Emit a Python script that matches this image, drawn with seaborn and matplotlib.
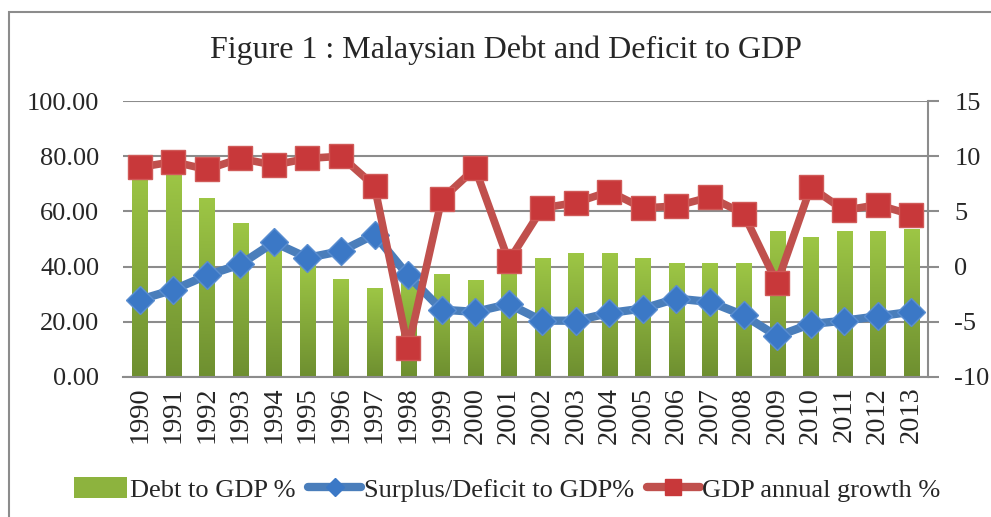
import numpy as np
import pandas as pd
import matplotlib
matplotlib.use('agg')
import matplotlib.pyplot as plt
import seaborn as sns
from matplotlib.patches import Patch, Rectangle
from matplotlib.lines import Line2D

years = [str(y) for y in range(1990, 2014)]
debt_gdp = [76.0, 74.0, 64.5, 55.8, 47.7, 41.3, 35.5, 32.2, 36.0, 37.3, 35.1, 41.0,
            43.1, 44.9, 44.9, 42.8, 41.3, 41.3, 41.3, 52.9, 50.7, 52.9, 52.9, 53.6]
surplus_deficit = [-3.0, -2.1, -0.8, 0.2, 2.2, 0.8, 1.4, 2.9, -0.8, -3.9, -4.1, -3.4,
                   -4.9, -4.9, -4.2, -3.8, -2.9, -3.2, -4.4, -6.3, -5.2, -4.9, -4.5, -4.1]
gdp_growth = [9.0, 9.5, 8.8, 9.8, 9.2, 9.8, 10.0, 7.3, -7.4, 6.1, 8.9, 0.5,
              5.3, 5.8, 6.8, 5.3, 5.5, 6.3, 4.8, -1.5, 7.2, 5.1, 5.6, 4.7]

df = pd.DataFrame({'year': years, 'debt': debt_gdp,
                   'surplus': surplus_deficit, 'growth': gdp_growth})
df['pos'] = np.arange(len(df))

sns.set_style('white')
plt.rcParams['font.family'] = ['Liberation Serif', 'DejaVu Serif']
plt.rcParams['axes.unicode_minus'] = False

GREEN = '#8DB33E'
BLUE = '#4A7EBB'
RED = '#C0504D'
GRID = '#8C8C8C'

fig = plt.figure(figsize=(9.91, 5.17), dpi=100)
ax = fig.add_axes([0.124, 0.2708, 0.8125, 0.5338])

sns.barplot(data=df, x='year', y='debt', color=GREEN, width=0.45,
            saturation=1, ax=ax, zorder=2)

# vertical gradient on each bar
grad = np.linspace(0, 1, 100).reshape(-1, 1)
cmap = matplotlib.colors.LinearSegmentedColormap.from_list('g', ['#6E8F30', '#9DC645'])
for p in ax.patches:
    x0, y0 = p.get_x(), p.get_y()
    w, h = p.get_width(), p.get_height()
    ax.imshow(grad, extent=[x0, x0 + w, y0, y0 + h], origin='lower',
              cmap=cmap, aspect='auto', zorder=2)
    p.set_visible(False)

ax.set_xlim(-0.5, 23.5)
ax.set_ylim(0, 100)
ax.set_yticks(np.arange(0, 101, 20))
ax.set_yticklabels(['%.2f' % v for v in np.arange(0, 101, 20)])
ax.yaxis.grid(True, color=GRID, lw=1.5)
ax.set_axisbelow(True)
ax.set_xlabel('')
ax.set_ylabel('')
ax.tick_params(axis='y', length=0, pad=17, labelsize=19)
ax.tick_params(axis='x', length=0, pad=7, labelsize=20.5, labelrotation=90)
for s in ['left', 'top', 'right']:
    ax.spines[s].set_visible(False)
ax.spines['bottom'].set_color(GRID)
ax.spines['bottom'].set_linewidth(1.5)

ax2 = ax.twinx()
sns.lineplot(data=df, x='pos', y='surplus', ax=ax2, color=BLUE, lw=6,
             marker='D', markersize=14, markerfacecolor='#3B78C6',
             markeredgecolor='#5A8ED0', markeredgewidth=1)
sns.lineplot(data=df, x='pos', y='growth', ax=ax2, color=RED, lw=5.5,
             marker='s', markersize=17, markerfacecolor='#C8383A',
             markeredgecolor='#D05A58', markeredgewidth=1)
ax2.set_ylim(-10, 15)
ax2.set_yticks(np.arange(-10, 16, 5))
ax2.set_xlim(-0.5, 23.5)
ax2.set_xlabel('')
ax2.set_ylabel('')
ax2.grid(False)
ax2.tick_params(axis='y', length=8, width=1.5, color=GRID, pad=11, labelsize=19)
for s in ['left', 'top', 'bottom']:
    ax2.spines[s].set_visible(False)
ax2.spines['right'].set_color(GRID)
ax2.spines['right'].set_linewidth(1.5)

fig.text(0.5105, 0.903, 'Figure 1 : Malaysian Debt and Deficit to GDP',
         ha='center', va='center', fontsize=23)

handles = [Patch(facecolor=GREEN, edgecolor='none'),
           Line2D([], [], color=BLUE, lw=6, marker='D', markersize=9,
                  markerfacecolor='#3B78C6', markeredgecolor='#3B78C6'),
           Line2D([], [], color=RED, lw=6, marker='s', markersize=11,
                  markerfacecolor='#C8383A', markeredgecolor='#C8383A')]
labels = ['Debt to GDP %', 'Surplus/Deficit to GDP%', 'GDP annual growth %']
fig.legend(handles, labels, loc='center', bbox_to_anchor=(0.512, 0.054), ncol=3,
           frameon=False, fontsize=19, handlelength=2.0, handletextpad=0.1,
           columnspacing=0.5, handleheight=0.9)

fig.patches.append(Rectangle((0.0091, -0.1), 1.2, 1.0768, transform=fig.transFigure,
                             fill=False, edgecolor='#8C8C8C', lw=1.5))

fig.savefig('out.png', dpi=100)
